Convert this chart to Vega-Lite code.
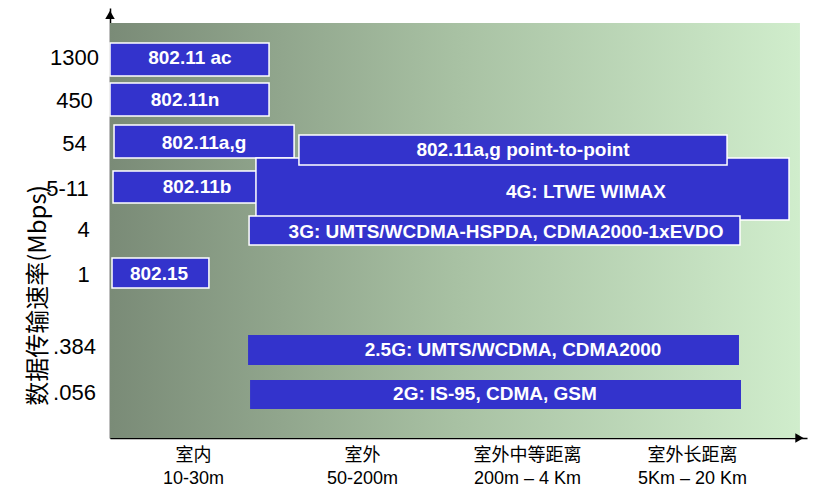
{
  "$schema": "https://vega.github.io/schema/vega-lite/v6.json",
  "width": 697,
  "height": 430,
  "autosize": {"type": "none"},
  "padding": {"left": 110, "top": 8, "right": 20, "bottom": 62},
  "background": "white",
  "config": {"view": {"stroke": null}},
  "datasets": {
    "bg": [{"x0": 0, "x1": 4.108, "y0": 0, "y1": 9.651}],
    "bars": [
      {"name": "802.11 ac", "x0": 0, "x1": 0.947, "y0": 8.419, "y1": 9.186, "tx": 0.476, "ty": 8.837, "edge": "yes"},
      {"name": "802.11n", "x0": 0, "x1": 0.947, "y0": 7.488, "y1": 8.256, "tx": 0.447, "ty": 7.86, "edge": "yes"},
      {"name": "802.11a,g", "x0": 0.024, "x1": 1.096, "y0": 6.512, "y1": 7.279, "tx": 0.56, "ty": 6.86, "edge": "yes"},
      {"name": "802.11b", "x0": 0.018, "x1": 1.018, "y0": 5.465, "y1": 6.209, "tx": 0.518, "ty": 5.837, "edge": "yes"},
      {"name": "4G: LTWE WIMAX", "x0": 0.869, "x1": 4.043, "y0": 5.07, "y1": 6.512, "tx": 2.834, "ty": 5.721, "edge": "yes"},
      {"name": "802.11a,g point-to-point", "x0": 1.125, "x1": 3.674, "y0": 6.349, "y1": 7.047, "tx": 2.459, "ty": 6.698, "edge": "yes"},
      {"name": "3G: UMTS/WCDMA-HSPDA, CDMA2000-1xEVDO", "x0": 0.828, "x1": 3.751, "y0": 4.488, "y1": 5.163, "tx": 2.358, "ty": 4.791, "edge": "yes"},
      {"name": "802.15", "x0": 0.012, "x1": 0.589, "y0": 3.488, "y1": 4.186, "tx": 0.292, "ty": 3.814, "edge": "yes"},
      {"name": "2.5G: UMTS/WCDMA, CDMA2000", "x0": 0.822, "x1": 3.745, "y0": 1.698, "y1": 2.395, "tx": 2.4, "ty": 2.047, "edge": "no"},
      {"name": "2G: IS-95, CDMA, GSM", "x0": 0.834, "x1": 3.757, "y0": 0.674, "y1": 1.349, "tx": 2.292, "ty": 1.023, "edge": "no"}
    ],
    "arrows": [
      {"x": 0, "y": 9.84, "dir": "triangle-up"},
      {"x": 4.105, "y": 0, "dir": "triangle-right"}
    ]
  },
  "layer": [
    {
      "data": {"name": "bg"},
      "mark": {
        "type": "rect",
        "color": {
          "gradient": "linear",
          "x1": 0, "y1": 0, "x2": 1, "y2": 0,
          "stops": [
            {"offset": 0, "color": "#7a8b77"},
            {"offset": 0.5, "color": "#a8c1a3"},
            {"offset": 1, "color": "#d0edcc"}
          ]
        }
      },
      "encoding": {
        "x": {
          "field": "x0", "type": "quantitative",
          "scale": {"domain": [0, 4.15], "nice": false, "zero": false},
          "axis": {
            "title": null,
            "values": [0.494, 1.5, 2.483, 3.465],
            "labelExpr": "datum.value < 1 ? ['室内', '10-30m'] : datum.value < 2 ? ['室外', '50-200m'] : datum.value < 3 ? ['室外中等距离', '200m – 4 Km'] : ['室外长距离', '5Km – 20 Km']",
            "labelFont": "Liberation Sans, Noto Sans CJK SC",
            "labelFontSize": 18,
            "labelLineHeight": 23,
            "labelColor": "black",
            "labelBaseline": "top",
            "labelPadding": 8,
            "labelOverlap": false,
            "labelFlush": false,
            "ticks": false,
            "grid": false,
            "domainColor": "black",
            "domainWidth": 1.5
          }
        },
        "x2": {"field": "x1"},
        "y": {
          "field": "y0", "type": "quantitative",
          "scale": {"domain": [0, 10], "nice": false, "zero": false},
          "axis": {
            "title": "数据传输速率(Mbps)",
            "titleFont": "Noto Sans CJK SC",
            "titleFontSize": 24,
            "titleFontWeight": "normal",
            "titleColor": "black",
            "titleAngle": -90,
            "titleX": -72,
            "titleY": 287,
            "titleAlign": "center",
            "titleBaseline": "middle",
            "values": [8.86, 7.86, 6.84, 5.81, 4.84, 3.81, 2.12, 1.05],
            "labelExpr": "datum.value > 8.5 ? '1300' : datum.value > 7.5 ? '450' : datum.value > 6.5 ? '54' : datum.value > 5.5 ? '5-11' : datum.value > 4.5 ? '4' : datum.value > 3.5 ? '1' : datum.value > 2 ? '.384' : '.056'",
            "labelFont": "Liberation Sans",
            "labelFontSize": 22,
            "labelColor": "black",
            "labelAlign": "center",
            "labelBaseline": "middle",
            "labelPadding": {
              "condition": [
                {"test": "datum.value > 5.5 && datum.value < 6", "value": 43},
                {"test": "datum.value > 3.5 && datum.value < 5", "value": 27}
              ],
              "value": 36
            },
            "labelOverlap": false,
            "labelFlush": false,
            "ticks": false,
            "grid": false,
            "domainColor": "black",
            "domainWidth": 1.5
          }
        },
        "y2": {"field": "y1"}
      }
    },
    {
      "data": {"name": "bars"},
      "mark": {"type": "rect", "color": "#3333cc", "stroke": "white", "strokeWidth": 1.5},
      "encoding": {
        "x": {"field": "x0", "type": "quantitative"},
        "x2": {"field": "x1"},
        "y": {"field": "y0", "type": "quantitative"},
        "y2": {"field": "y1"},
        "strokeOpacity": {"condition": {"test": "datum.edge == 'no'", "value": 0}, "value": 1}
      }
    },
    {
      "data": {"name": "bars"},
      "mark": {"type": "text", "color": "white", "font": "Liberation Sans", "fontWeight": "bold", "fontSize": 19, "align": "center", "baseline": "middle"},
      "encoding": {
        "x": {"field": "tx", "type": "quantitative"},
        "y": {"field": "ty", "type": "quantitative"},
        "text": {"field": "name"}
      }
    },
    {
      "data": {"name": "arrows"},
      "mark": {"type": "point", "filled": true, "color": "black", "size": 90, "opacity": 1, "strokeWidth": 0},
      "encoding": {
        "x": {"field": "x", "type": "quantitative"},
        "y": {"field": "y", "type": "quantitative"},
        "shape": {"field": "dir", "type": "nominal", "scale": null}
      }
    }
  ]
}
